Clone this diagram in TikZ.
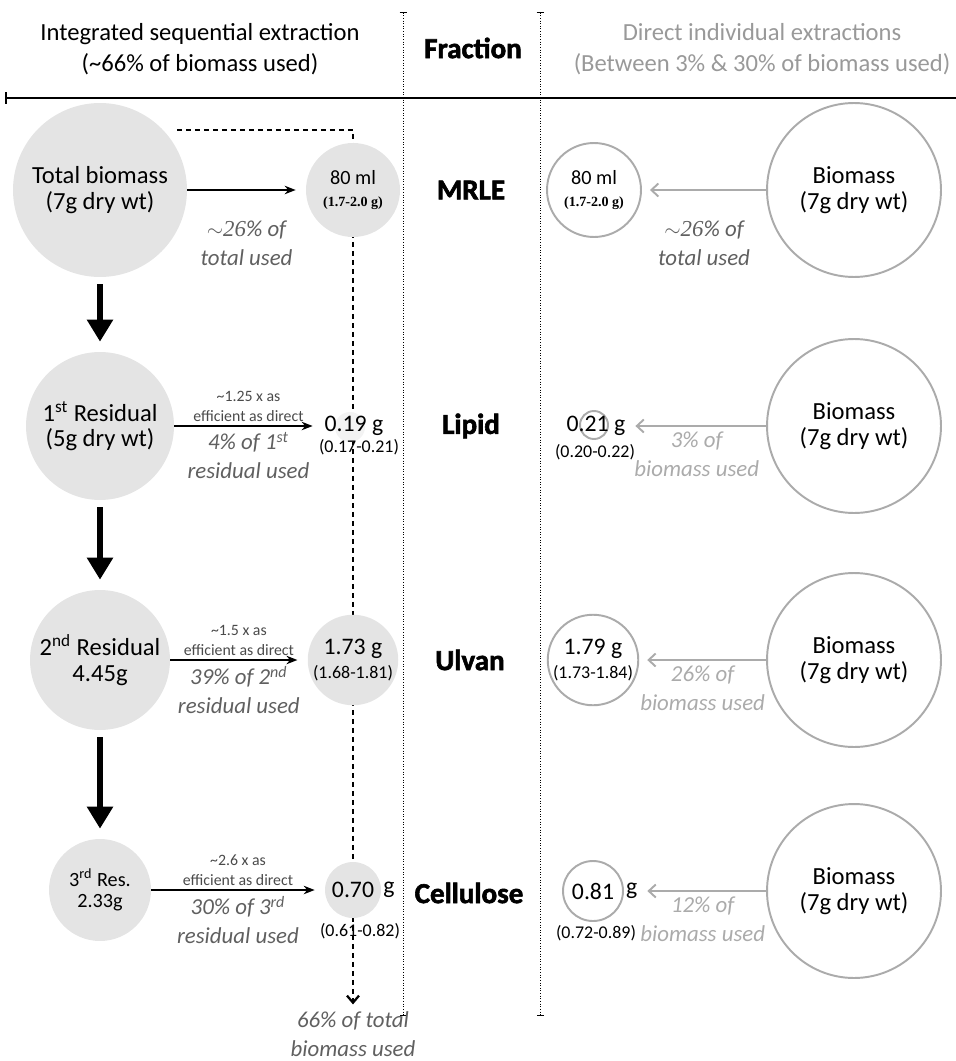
\documentclass[tikz,border=0pt]{standalone}
\usepackage{fontspec}
\setmainfont{Carlito}
\newfontfamily\heavyfont[FakeBold=2]{Carlito}
\newfontfamily\timesfont{Liberation Serif}
\usetikzlibrary{arrows.meta}

\definecolor{resfill}{HTML}{E4E4E4}
\definecolor{notegray}{HTML}{606060}
\definecolor{effgray}{HTML}{4A4A4A}
\definecolor{directgray}{HTML}{ABABAB}
\definecolor{headgray}{HTML}{999999}

\newcommand\txthead{\fontsize{14}{18}\selectfont}
\newcommand\txtbig{\fontsize{14}{14.5}\selectfont}
\newcommand\txtval{\fontsize{13.5}{14}\selectfont}
\newcommand\txtmid{\fontsize{11.5}{12.5}\selectfont}
\newcommand\txtnote{\itshape\fontsize{13}{16.5}\selectfont}
\newcommand\txtsmall{\fontsize{9}{11.5}\selectfont}
\newcommand\txtrng{\fontsize{10.2}{11}\selectfont}
\newcommand\txtheavy{\heavyfont\bfseries\fontsize{16.5}{18}\selectfont}
\newcommand\txttimes{\timesfont\bfseries\fontsize{8}{9}\selectfont}
\newcommand\tld[1]{{\timesfont\itshape$\sim$#1}}

\begin{document}
\begin{tikzpicture}[x=0.02cm, y=-0.02cm,
    res/.style={circle, fill=resfill, inner sep=0pt, align=center, font=\txtbig},
    dval/.style={circle, draw=directgray, line width=1.1pt, fill=white, inner sep=0pt, align=center, font=\txtval},
    bio/.style={dval, minimum size=3.48cm, font=\txtbig},
    valtxt/.style={font=\txtval, inner sep=1pt},
    valg/.style={font=\txtval, inner sep=1pt},
    rng/.style={font=\txtrng, inner sep=0pt},
    faint/.style={circle, fill=resfill!45, minimum size=0.6cm, inner sep=0pt},
    heavy/.style={font=\txtheavy},
    head/.style={align=center, font=\txthead},
    note/.style={align=center, font=\txtnote, text=notegray, inner sep=1pt},
    dnote/.style={note, text=directgray},
    eff/.style={align=center, font=\txtsmall, text=effgray, inner sep=2pt},
    flow/.style={-{Stealth[length=0.22cm,width=0.17cm]}, line width=0.9pt, shorten >=0.2cm},
    dflow/.style={-{Straight Barb[length=0.14cm,width=0.26cm]}, draw=directgray, line width=1.1pt, shorten >=0.16cm},
    down/.style={-{Triangle[length=0.44cm,width=0.5cm]}, line width=3.4pt, shorten <=0.14cm, shorten >=0.2cm},
    dashline/.style={-{Straight Barb[length=0.14cm,width=0.24cm]}, line width=1.3pt, dash pattern=on 0.1cm off 0.08cm, shorten >=0.1cm},
    sepline/.style={densely dotted, line width=0.5pt, {Bar[width=0.14cm]}-{Bar[width=0.14cm]}},
    rule/.style={line width=1.2pt, {Bar[width=0.24cm]}-}]
\useasboundingbox (0,0) rectangle (956,1061);

% headings
\node (hint) at (200,49) [head] {Integrated sequential extraction\\(\textasciitilde66\% of biomass used)};
\node (hfrac) at (473,48) [heavy] {Fraction};
\node (hdir) at (762,49) [head, text=headgray] {Direct individual extractions\\(Between 3\% \& 30\% of biomass used)};
\coordinate (rl) at (5,98);
\coordinate (rr) at (956,98);
\draw[rule] (rl) -- (rr);
\coordinate (s1t) at (403,12);
\coordinate (s1b) at (403,1016);
\coordinate (s2t) at (540,12);
\coordinate (s2b) at (540,1016);
\draw[sepline] (s1t) -- (s1b);
\draw[sepline] (s2t) -- (s2b);

% running total
\node (tot) at (353,1034) [note] {66\% of total\\biomass used};
\coordinate (dstart) at (177,130);
\draw[dashline] (dstart) -| (tot);

% sequential extraction
\node (tb) at (100,190) [res, minimum size=3.48cm] {Total biomass\\(7g dry wt)};
\node (m80) at (353,190) [res, minimum size=1.88cm, font=\txtmid] {80 ml\\{\txttimes (1.7-2.0 g)}};
\node (res1) at (100,426) [res, minimum size=2.96cm] {1\textsuperscript{st} Residual\\(5g dry wt)};
\node (lipc) at (350,427) [faint] {};
\node (lipv) at (354,426) [valtxt] {0.19 g};
\node (lipr) at (359,447) [rng] {(0.17-0.21)};
\node (res2) at (100,660) [res, minimum size=2.8cm] {2\textsuperscript{nd} Residual\\4.45g};
\node (ulv) at (353,660) [res, minimum size=1.76cm, font=\txtval] {1.73 g\\{\txtrng (1.68-1.81)}};
\node (res3) at (100,890) [res, minimum size=2.04cm, font=\txtmid] {3\textsuperscript{rd} Res.\\2.33g};
\node (cel) at (353,890) [res, minimum size=1.12cm, font=\txtval, label={[valg]east:g}] {0.70};
\node (celr) at (360,931) [rng] {(0.61-0.82)};

\draw[down] (tb) -- (res1);
\draw[down] (res1) -- (res2);
\draw[down] (res2) -- (res3);

\draw[flow] (tb) -- (m80) node[midway, below=16pt, note] {\tld{26}\% of\\total used};
\draw[flow] (res1) -- (lipv)
    node[midway, above, eff] {\textasciitilde1.25 x as\\efficient as direct}
    node[midway, below=2pt, note] {4\% of 1\textsuperscript{st}\\residual used};
\draw[flow] (res2) -- (ulv)
    node[midway, above, eff] {\textasciitilde1.5 x as\\efficient as direct}
    node[midway, below=2pt, note] {39\% of 2\textsuperscript{nd}\\residual used};
\draw[flow] (res3) -- (cel)
    node[midway, above, eff] {\textasciitilde2.6 x as\\efficient as direct}
    node[midway, below=2pt, note] {30\% of 3\textsuperscript{rd}\\residual used};

% fractions
\node (fmrle) at (471,190) [heavy] {MRLE};
\node (flip) at (471,426) [heavy] {Lipid};
\node (fulv) at (470,660) [heavy] {Ulvan};
\node (fcel) at (469,893) [heavy] {Cellulose};

% direct extractions
\node (bm1) at (854,190) [bio] {Biomass\\(7g dry wt)};
\node (bm2) at (854,426) [bio] {Biomass\\(7g dry wt)};
\node (bm3) at (854,660) [bio] {Biomass\\(7g dry wt)};
\node (bm4) at (854,891) [bio] {Biomass\\(7g dry wt)};
\node (d80) at (594,190) [dval, minimum size=1.88cm, font=\txtmid] {80 ml\\{\txttimes (1.7-2.0 g)}};
\node (dlipc) at (594,425) [dval, fill=none, minimum size=0.56cm] {};
\node (dlip) at (596,426) [valtxt] {0.21 g};
\node (dlipr) at (595,452) [rng] {(0.20-0.22)};
\node (dulv) at (593,660) [dval, minimum size=1.76cm] {1.79 g\\{\txtrng (1.73-1.84)}};
\node (dcel) at (593,891) [dval, minimum size=1.2cm, label={[valg, name=dcelg]east:g}] {0.81};
\node (dcelr) at (596,933) [rng] {(0.72-0.89)};

\draw[dflow] (bm1) -- (d80) node[midway, below=16pt, note] {\tld{26}\% of\\total used};
\draw[dflow] (bm2) -- (dlip) node[midway, below=2pt, dnote] {3\% of\\biomass used};
\draw[dflow] (bm3) -- (dulv) node[midway, below=2pt, dnote] {26\% of\\biomass used};
\draw[dflow] (bm4) -- (dcelg) node[midway, below=2pt, dnote] {12\% of\\biomass used};
\end{tikzpicture}
\end{document}
